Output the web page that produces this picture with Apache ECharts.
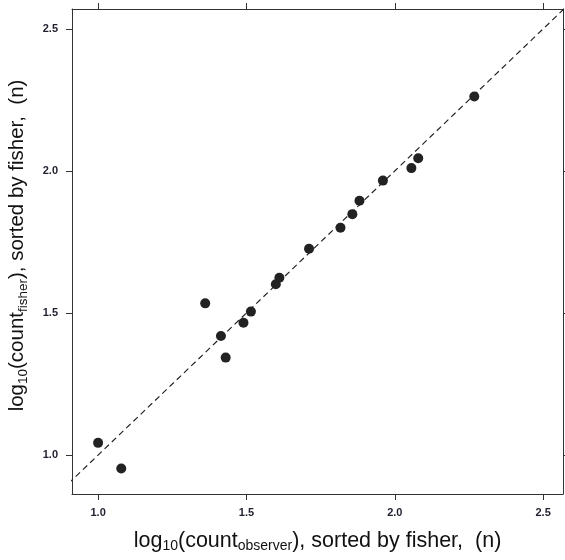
<!DOCTYPE html>
<html>
<head>
<meta charset="utf-8">
<script src="https://cdn.jsdelivr.net/npm/echarts@6/dist/echarts.min.js"></script>
<style>
  html, body { margin: 0; padding: 0; background: #fff; }
  #chart { width: 565px; height: 560px; }
</style>
</head>
<body>
<div id="chart"></div>
<script>
// log10(count) per species, observer vs fisher
const observerVals = [1.000, 1.078, 1.361, 1.414, 1.430, 1.490, 1.515, 1.599, 1.611, 1.711, 1.817, 1.857, 1.881, 1.960, 2.056, 2.079, 2.268]
const fisherVals   = [1.043, 0.953, 1.534, 1.419, 1.343, 1.466, 1.505, 1.601, 1.624, 1.726, 1.800, 1.848, 1.895, 1.966, 2.010, 2.045, 2.262]
const tickValues = [1.0, 1.5, 2.0, 2.5]
const xRange = [0.912, 2.567]
const yRange = [0.863, 2.570]

const points = observerVals.map((v, i) => [v, fisherVals[i]])
// 1:1 reference line across the panel
const oneToOne = [[0.9, 0.9], [2.6, 2.6]]

const axisColor = '#333'
const font = 'Liberation Sans, Arial, sans-serif'
const tickLabel = {
  color: '#1f1f2e',
  fontSize: 11,
  fontWeight: 'bold',
  fontFamily: font,
  customValues: tickValues,
  formatter: v => v.toFixed(1)
}
// main text sits at top of line, subscript centred lower
const makeRich = (size, subSize) => ({
  a: { fontSize: size, lineHeight: 22, verticalAlign: 'top', color: '#111', fontFamily: font },
  s: { fontSize: subSize, lineHeight: 32, verticalAlign: 'middle', color: '#111', fontFamily: font }
})

const baseAxis = (range) => ({
  type: 'value',
  min: range[0],
  max: range[1],
  axisLine: { show: true, lineStyle: { color: axisColor, width: 1 } },
  axisTick: { show: true, length: 6, customValues: tickValues, lineStyle: { color: axisColor } },
  splitLine: { show: false }
})

const chart = echarts.init(document.getElementById('chart'))

chart.setOption({
  backgroundColor: '#fff',
  animation: false,
  grid: { left: 72, top: 9, width: 491, height: 485, outerBoundsMode: 'none', containLabel: false },
  xAxis: [
    {
      ...baseAxis(xRange),
      position: 'bottom',
      axisLabel: { ...tickLabel, margin: 13 },
      name: '{a|log}{s|10}{a|(count}{s|observer}{a|), sorted by fisher,  (n)}',
      nameLocation: 'middle',
      nameGap: 36,
      nameTextStyle: { rich: makeRich(21.5, 14) }
    },
    {
      ...baseAxis(xRange),
      position: 'top',
      axisLabel: { show: false }
    }
  ],
  yAxis: [
    {
      ...baseAxis(yRange),
      position: 'left',
      axisLabel: { ...tickLabel, margin: 14 },
      name: '{a|log}{s|10}{a|(count}{s|fisher}{a|), sorted by fisher,  (n)}',
      nameLocation: 'middle',
      nameRotate: 90,
      nameGap: 33,
      nameTextStyle: { rich: makeRich(20.5, 13.5), padding: [0, 0, 0, 12] }
    },
    {
      ...baseAxis(yRange),
      position: 'right',
      axisLabel: { show: false }
    }
  ],
  series: [
    {
      type: 'line',
      data: oneToOne,
      showSymbol: false,
      silent: true,
      lineStyle: { color: '#222', width: 1.2, type: [6, 4] },
      clip: true
    },
    {
      type: 'scatter',
      data: points,
      symbol: 'circle',
      symbolSize: 10,
      itemStyle: { color: '#222', opacity: 1 }
    }
  ]
})

window.addEventListener('resize', () => chart.resize())
</script>
</body>
</html>
